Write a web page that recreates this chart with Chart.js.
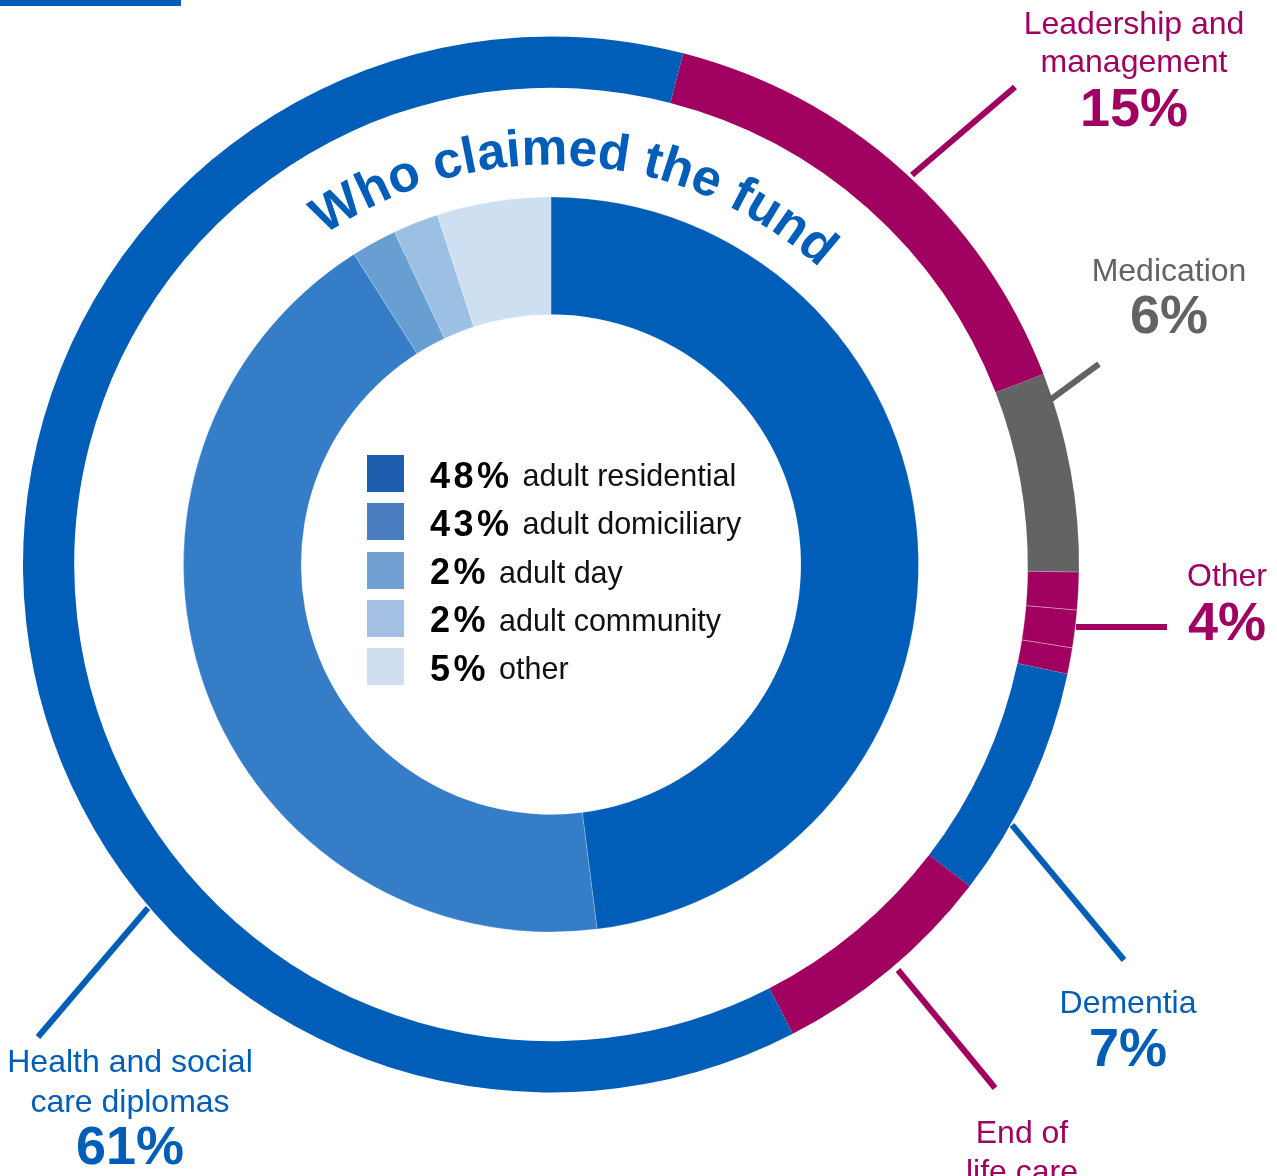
<!DOCTYPE html>
<html>
<head>
<meta charset="utf-8">
<script src="https://cdn.jsdelivr.net/npm/chart.js@4.4.1/dist/chart.umd.min.js"></script>
<style>
  html, body { margin: 0; padding: 0; background: #fff; }
  #wrap { position: relative; width: 1277px; height: 1176px; overflow: hidden; font-family: "Liberation Sans", Arial, sans-serif; }
  #wrap canvas, #wrap svg { position: absolute; left: 0; top: 0; }
  .topbar { position: absolute; left: 0; top: 0; width: 181px; height: 6px; background: #005EB8; }
  #legend { position: absolute; left: 367px; top: 455px; }
  .row { display: flex; align-items: center; height: 37px; margin-bottom: 11.3px; white-space: nowrap; }
  .sw { width: 37px; height: 37px; margin-right: 26px; flex: none; }
  .pct { font-weight: bold; font-size: 36px; letter-spacing: 3.5px; color: #000; margin-right: 10px; position: relative; top: 2px; }
  .lbl { font-size: 30.5px; color: #111; position: relative; top: 2px; }
</style>
</head>
<body>
<div id="wrap">
  <div class="topbar"></div>
  <canvas id="outer" width="1277" height="1176"></canvas>
  <canvas id="inner" width="1277" height="1176"></canvas>
  <svg id="title" width="1277" height="1176">
    <defs><path id="titleArc" d=""></path></defs>
    <text font-family="Liberation Sans, Arial, sans-serif" font-weight="bold" font-size="51.5" fill="#005EB8">
      <textPath href="#titleArc" startOffset="50%" text-anchor="middle">Who claimed the fund</textPath>
    </text>
  </svg>
  <div id="legend"></div>
</div>
<script>
const topicLabels = ['Leadership and management', 'Medication', 'Other', 'Other', 'Other', 'Dementia', 'End of life care', 'Health and social care diplomas'];
const topicShares = [15.1, 6.1, 1.15, 1.15, 0.8, 7.1, 7.0, 61.6];
const topicColors = ['#A00060', '#636363', '#A00060', '#A00060', '#A00060', '#005EB8', '#A00060', '#005EB8'];

// printed callout text
const calloutNames = [['Leadership and', 'management'], ['Medication'], ['Other'], ['Dementia'], ['End of', 'life care'], ['Health and social', 'care diplomas']];
const calloutPct = ['15%', '6%', '4%', '7%', '', '61%'];
const calloutColors = ['#A00060', '#636363', '#A00060', '#005EB8', '#A00060', '#005EB8'];

// inner ring: who claimed the fund
const claimLabels = ['adult residential', 'adult domiciliary', 'adult day', 'adult community', 'other'];
const claimPct = [48, 43, 2, 2, 5];
const claimColors = ['#005EB8', '#357EC7', '#689FD3', '#9BC0E3', '#CEDFF2'];
const claimKeyColors = ['#1E5DAD', '#4A7DBF', '#72A0D2', '#A3C0E2', '#D0DEF0'];

// layout for callouts: leader line ends and text anchors
const calloutLayout = [
  { line: [912, 175, 1015, 87], x: 1134, y: [34, 72], py: 126 },
  { line: [1050, 400, 1099, 364], x: 1169, y: [281], py: 333 },
  { line: [1076, 627, 1167, 627], x: 1227, y: [586], py: 640 },
  { line: [1012, 825, 1124, 960], x: 1128, y: [1013], py: 1066 },
  { line: [898, 970, 995, 1088], x: 1022, y: [1143, 1182], py: 0 },
  { line: [148, 908, 38, 1037], x: 130, y: [1072, 1112], py: 1164 }
];

const calloutPlugin = {
  id: 'callouts',
  afterDraw(chart) {
    const ctx = chart.ctx;
    ctx.save();
    calloutLayout.forEach((c, i) => {
      ctx.strokeStyle = calloutColors[i];
      ctx.lineWidth = 6;
      ctx.lineCap = 'butt';
      ctx.beginPath();
      ctx.moveTo(c.line[0], c.line[1]);
      ctx.lineTo(c.line[2], c.line[3]);
      ctx.stroke();

      ctx.fillStyle = calloutColors[i];
      ctx.textAlign = 'center';
      ctx.textBaseline = 'alphabetic';
      ctx.font = '32px "Liberation Sans", Arial, sans-serif';
      calloutNames[i].forEach((t, j) => ctx.fillText(t, c.x, c.y[j]));
      if (calloutPct[i]) {
        ctx.font = 'bold 54px "Liberation Sans", Arial, sans-serif';
        ctx.fillText(calloutPct[i], c.x, c.py);
      }
    });
    ctx.restore();
  }
};

const outerChart = new Chart(document.getElementById('outer'), {
  type: 'doughnut',
  data: {
    labels: topicLabels,
    datasets: [{
      data: topicShares,
      backgroundColor: topicColors,
      borderWidth: [0, 0, 1, 1, 1, 0, 0, 0],
      borderColor: 'rgba(255,255,255,0.3)'
    }]
  },
  options: {
    responsive: false,
    animation: false,
    rotation: 14.5,
    cutout: '90.3%',
    layout: { padding: { left: 22.5, top: 36, right: 197.5, bottom: 83 } },
    plugins: { legend: { display: false }, tooltip: { enabled: false } }
  },
  plugins: [calloutPlugin]
});

new Chart(document.getElementById('inner'), {
  type: 'doughnut',
  data: {
    labels: claimLabels,
    datasets: [{
      data: claimPct,
      backgroundColor: claimColors,
      borderWidth: 1,
      borderColor: 'rgba(255,255,255,0.2)'
    }]
  },
  options: {
    responsive: false,
    animation: false,
    rotation: 0,
    cutout: '68%',
    layout: { padding: { left: 183, top: 196.5, right: 358, bottom: 243.5 } },
    plugins: { legend: { display: false }, tooltip: { enabled: false } }
  }
});

// curved title around the chart centre
const arc0 = outerChart.getDatasetMeta(0).data[0];
const cx = arc0.x, cy = arc0.y, tr = 400, mid = 3.8 * Math.PI / 180;
const a0 = mid - Math.PI / 2, a1 = mid + Math.PI / 2;
const px = a => cx + tr * Math.sin(a), py = a => cy - tr * Math.cos(a);
document.getElementById('titleArc').setAttribute('d',
  `M ${px(a0)} ${py(a0)} A ${tr} ${tr} 0 0 1 ${px(a1)} ${py(a1)}`);

// centre key
const legend = document.getElementById('legend');
claimLabels.forEach((name, i) => {
  const row = document.createElement('div');
  row.className = 'row';
  row.innerHTML = `<span class="sw" style="background:${claimKeyColors[i]}"></span>` +
    `<span class="pct">${claimPct[i]}%</span><span class="lbl">${name}</span>`;
  legend.appendChild(row);
});
</script>
</body>
</html>
